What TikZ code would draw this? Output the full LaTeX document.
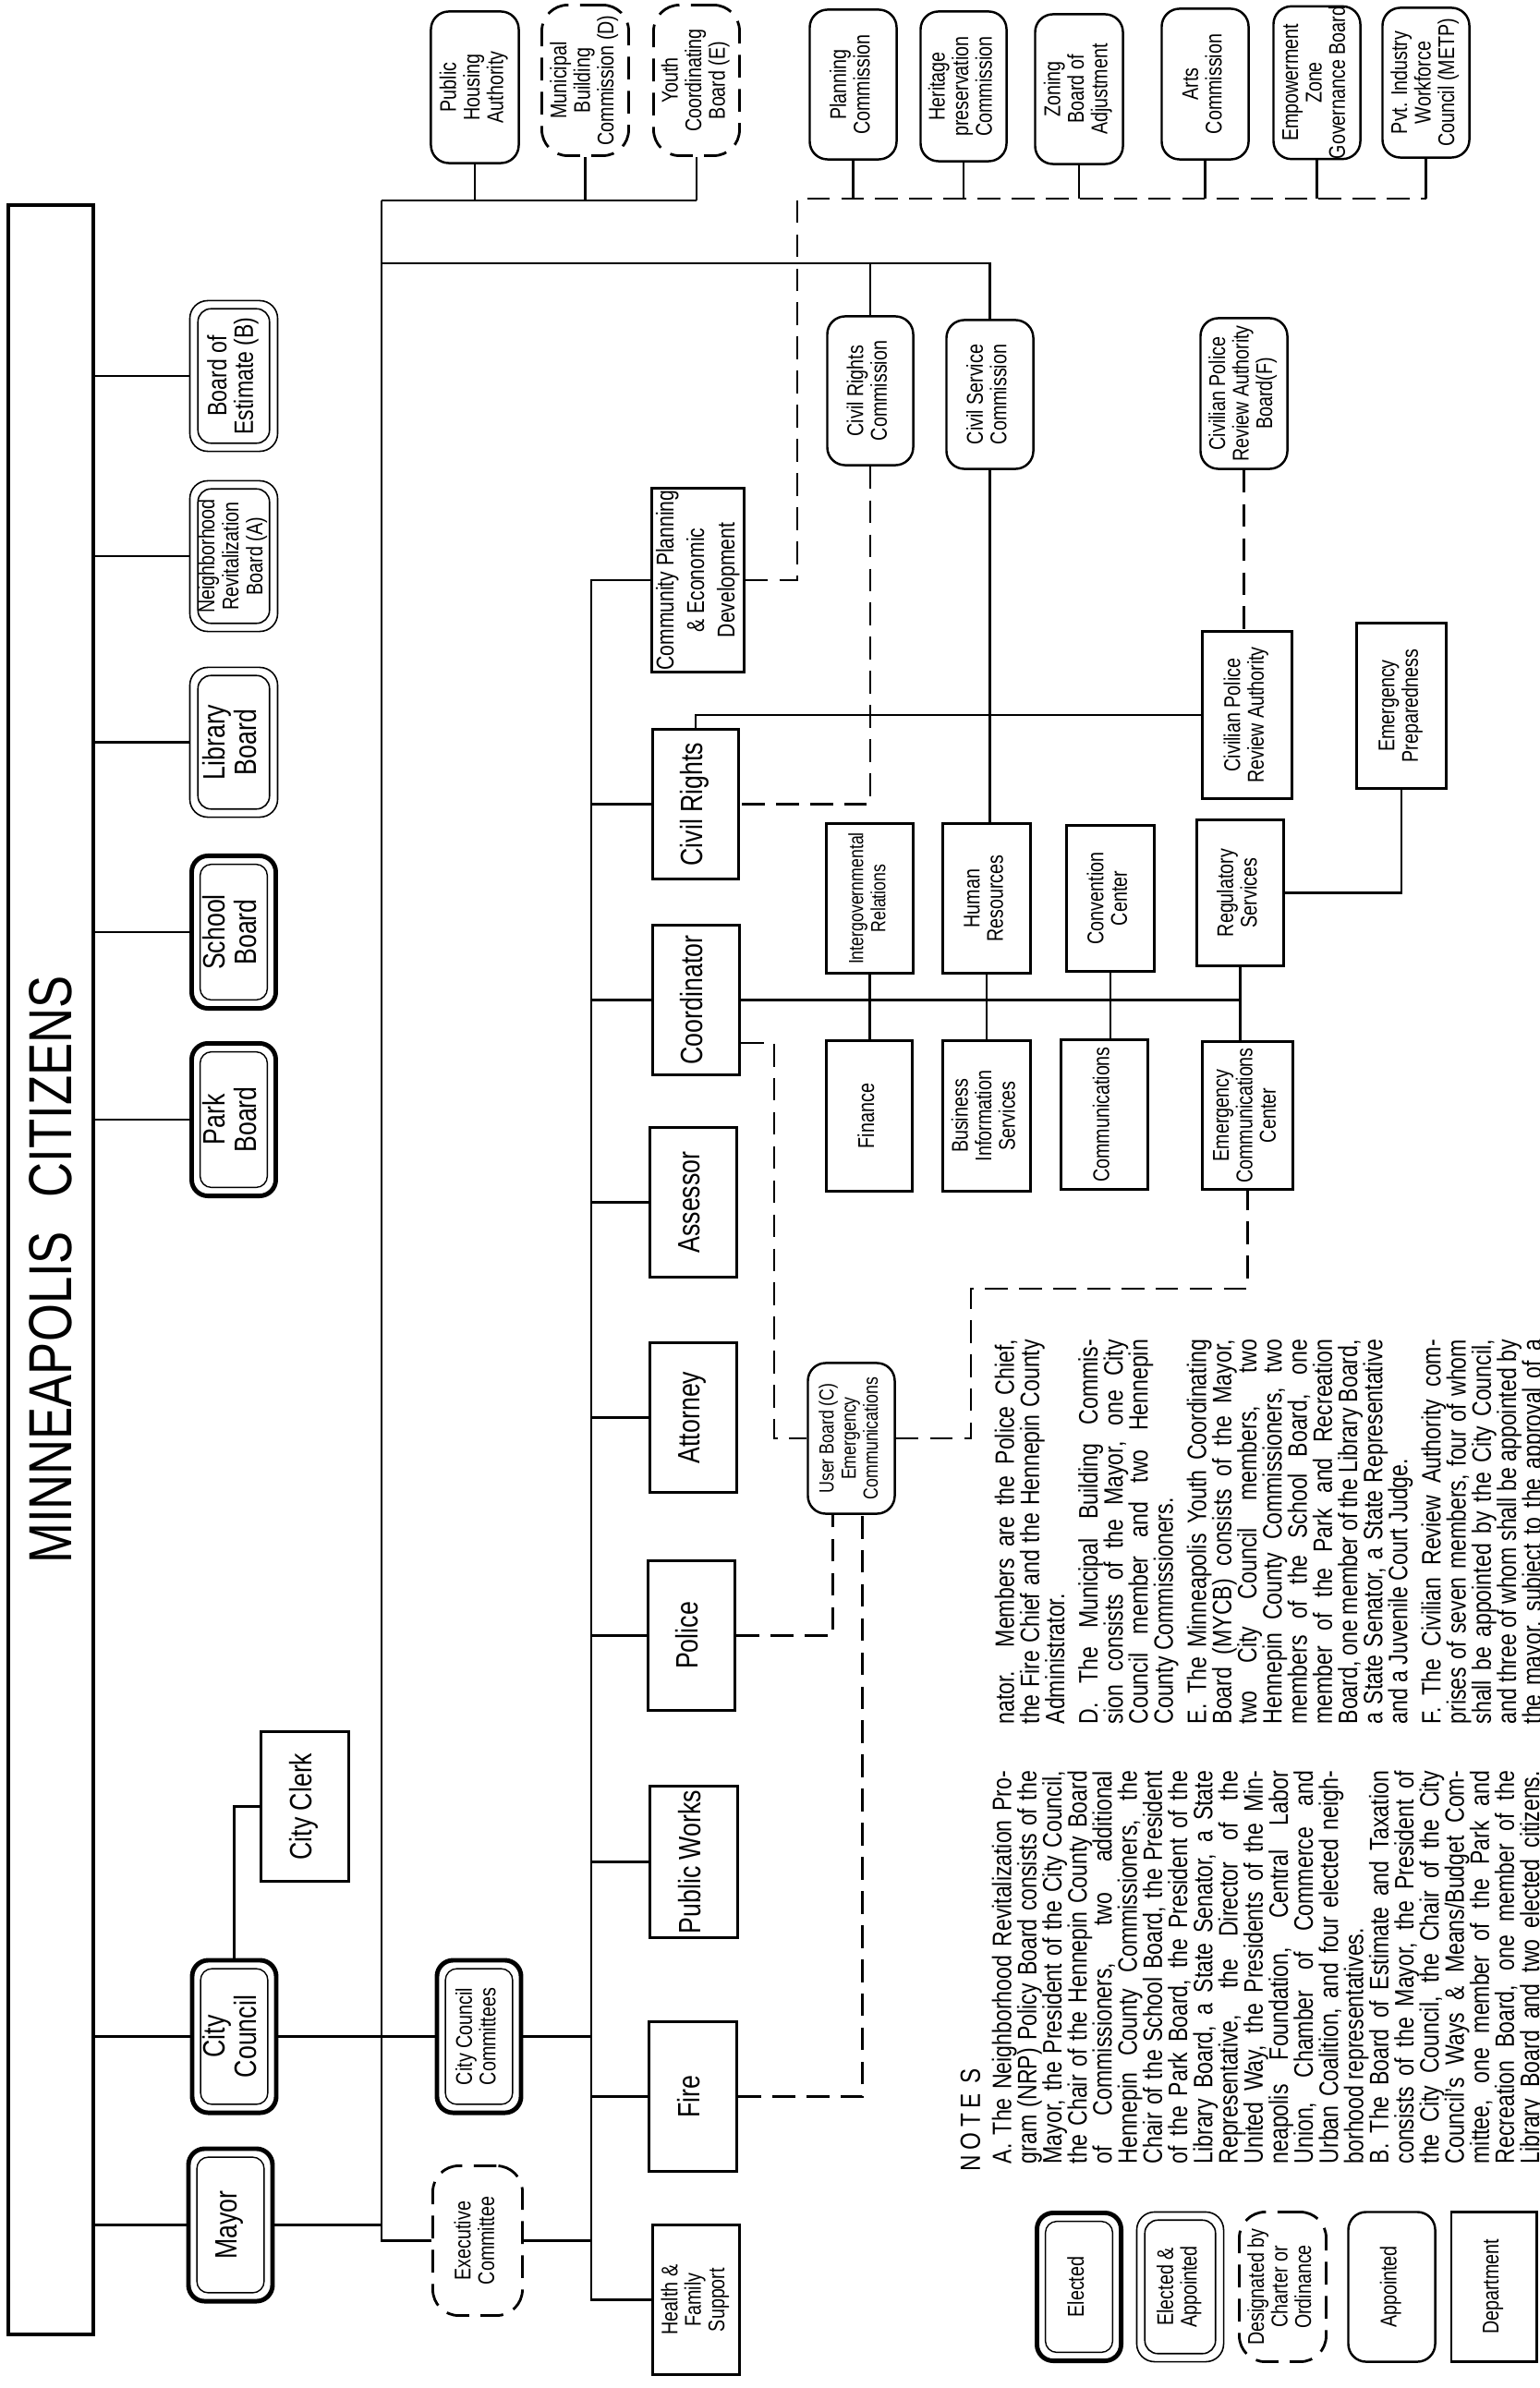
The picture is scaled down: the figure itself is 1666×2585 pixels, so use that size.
\documentclass[tikz,border=0pt]{standalone}
\usepackage{fontspec}
\setmainfont{Liberation Sans}[FakeStretch=0.8]
\usepackage{graphicx}
\usetikzlibrary{calc}

\newcommand{\vt}[1]{\rotatebox{90}{\begin{tabular}{@{}c@{}}#1\end{tabular}}}

\tikzset{
  wh/.style 2 args={minimum width=#1cm, minimum height=#2cm},
  big/.style={font=\fontsize{9.5}{9.2}\selectfont},
  mid/.style={font=\fontsize{8.2}{7.5}\selectfont},
  small/.style={font=\fontsize{7}{7.2}\selectfont},
  tiny/.style={font=\fontsize{6.3}{6.8}\selectfont},
  link/.style={line width=0.6pt},
  stub/.style={line width=0.8pt},
  dlink/.style={line width=0.8pt, dash pattern=on 7pt off 3.5pt},
  dept/.style={draw, line width=0.85pt, inner sep=0pt},
  appt/.style={draw, line width=0.7pt, rounded corners=5.5pt, inner sep=0pt},
  desig/.style={draw, line width=0.8pt, rounded corners=8pt, dash pattern=on 7pt off 3.5pt, inner sep=0pt},
  elected/.style={draw, line width=1.4pt, rounded corners=5pt, inner sep=0pt,
    path picture={\draw[line width=0.4pt, rounded corners=3.5pt, solid]
      ([shift={(2.6pt,-2.6pt)}]path picture bounding box.north west) rectangle
      ([shift={(-2.6pt,2.6pt)}]path picture bounding box.south east);}},
  elapp/.style={draw, line width=0.45pt, rounded corners=5.5pt, inner sep=0pt,
    path picture={\draw[line width=0.45pt, rounded corners=4pt, solid]
      ([shift={(2.5pt,-2.5pt)}]path picture bounding box.north west) rectangle
      ([shift={(-2.5pt,2.5pt)}]path picture bounding box.south east);}},
  banner/.style={draw, line width=1.1pt, inner sep=0pt},
  notes/.style={rotate=90, inner sep=0pt, font=\fontsize{8.2}{7.74}\selectfont,
    execute at begin node={\setlength{\parindent}{0pt}\lineskiplimit=-10pt\hyphenpenalty=10000\tolerance=9999}}
}

\begin{document}
\begin{tikzpicture}[x=0.01cm, y=-0.01cm]
\useasboundingbox (0,0) rectangle (1666,2585);

\node[banner, wh={0.92}{23.03}] (citizens) at (55,1374.5) {\rotatebox{90}{\fontsize{18.7}{20}\selectfont MINNEAPOLIS\hspace{10.5pt}CITIZENS}};

\node[elapp, mid, wh={0.95}{1.63}] (estimate) at (253,407) {\vt{Board of\\Estimate (B)}};
\node[elapp, font=\fontsize{7}{7.4}\selectfont, wh={0.95}{1.63}] (nrb) at (253,602) {\vt{Neighborhood\\Revitalization\\Board (A)}};
\node[elapp, big, wh={0.95}{1.62}] (library) at (253,803.5) {\vt{Library\\Board}};
\node[elected, big, wh={0.91}{1.65}] (school) at (253,1009) {\vt{School\\Board}};
\node[elected, big, wh={0.91}{1.65}] (park) at (253,1212) {\vt{Park\\Board}};
\node[elected, big, wh={0.91}{1.65}] (council) at (253.5,2204.5) {\vt{City\\Council}};
\node[elected, big, wh={0.91}{1.65}] (mayor) at (249.5,2408.5) {\vt{Mayor}};
\node[dept, big, wh={0.95}{1.62}] (clerk) at (330,1955.5) {\vt{City Clerk}};
\node[elected, small, wh={0.91}{1.65}] (committees) at (518.5,2204.5) {\vt{City Council\\Committees}};
\node[desig, small, wh={0.97}{1.62}] (exec) at (517,2425.5) {\vt{Executive\\Committee}};

\node[appt, small, wh={0.95}{1.64}] (housing) at (514,94.5) {\vt{Public\\Housing\\Authority}};
\node[desig, small, wh={0.94}{1.63}] (mbc) at (633.5,87) {\vt{Municipal\\Building\\Commission (D)}};
\node[desig, small, wh={0.93}{1.63}] (ycb) at (754,87) {\vt{Youth\\Coordinating\\Board (E)}};
\node[appt, small, wh={0.94}{1.62}] (planning) at (923.5,91.5) {\vt{Planning\\Commission}};
\node[appt, small, wh={0.93}{1.62}] (heritage) at (1043,93.5) {\vt{Heritage\\preservation\\Commission}};
\node[appt, small, wh={0.95}{1.62}] (zoning) at (1168,96.5) {\vt{Zoning\\Board of\\Adjustment}};
\node[appt, small, wh={0.94}{1.63}] (arts) at (1304.5,91) {\vt{Arts\\Commission}};
\node[appt, small, wh={0.94}{1.62}] (ezgb) at (1425.5,89.5) {\vt{Empowerment\\Zone\\Governance Board}};
\node[appt, small, wh={0.94}{1.62}] (pvt) at (1543.5,89.5) {\vt{Pvt. Industry\\Workforce\\Council (METP)}};

\node[appt, small, wh={0.93}{1.61}] (crc) at (942,423) {\vt{Civil Rights\\Commission}};
\node[appt, small, wh={0.94}{1.61}] (csc) at (1071.5,427) {\vt{Civil Service\\Commission}};
\node[appt, small, wh={0.94}{1.63}] (cprab) at (1346.5,426) {\vt{Civilian Police\\Review Authority\\Board(F)}};

\node[dept, font=\fontsize{7.5}{9.4}\selectfont, wh={0.98}{1.99}] (cped) at (755.5,628) {\vt{Community Planning\\\& Economic\\Development}};
\node[dept, big, wh={0.93}{1.62}] (civrights) at (753,870.5) {\vt{Civil Rights}};
\node[dept, big, wh={0.94}{1.62}] (coord) at (753.5,1082.5) {\vt{Coordinator}};
\node[dept, big, wh={0.94}{1.62}] (assessor) at (750.5,1301.5) {\vt{Assessor}};
\node[dept, big, wh={0.94}{1.62}] (attorney) at (750.5,1534.5) {\vt{Attorney}};
\node[dept, big, wh={0.94}{1.62}] (police) at (748.5,1770.5) {\vt{Police}};
\node[dept, big, wh={0.95}{1.64}] (pworks) at (751,2015.5) {\vt{Public Works}};
\node[dept, big, wh={0.95}{1.62}] (fire) at (750,2269.5) {\vt{Fire}};
\node[dept, small, wh={0.94}{1.62}] (hfs) at (753.5,2489.5) {\vt{Health \&\\Family\\Support}};

\node[dept, tiny, wh={0.94}{1.62}] (igr) at (941.5,972.5) {\vt{Intergovernmental\\Relations}};
\node[dept, small, wh={0.93}{1.63}] (finance) at (941,1208) {\vt{Finance}};
\node[dept, small, wh={0.94}{1.62}] (hr) at (1068,972.5) {\vt{Human\\Resources}};
\node[dept, small, wh={0.94}{1.63}] (bis) at (1068,1208) {\vt{Business\\Information\\Services}};
\node[dept, small, wh={0.95}{1.58}] (conv) at (1202,972.5) {\vt{Convention\\Center}};
\node[dept, small, wh={0.94}{1.62}] (comms) at (1195.5,1206.5) {\vt{Communications}};
\node[dept, small, wh={0.94}{1.58}] (reg) at (1342.5,966.5) {\vt{Regulatory\\Services}};
\node[dept, small, wh={0.98}{1.60}] (ecc) at (1350.5,1207.5) {\vt{Emergency\\Communications\\Center}};
\node[dept, small, wh={0.97}{1.81}] (cpra) at (1350,774) {\vt{Civilian Police\\Review Authority}};
\node[dept, small, wh={0.97}{1.79}] (emprep) at (1517,764) {\vt{Emergency\\Preparedness}};
\node[appt, tiny, wh={0.94}{1.63}] (userbd) at (921.5,1557) {\vt{User Board (C)\\Emergency\\Communications}};

\node[elected, small, wh={0.91}{1.60}] (lgelected) at (1168,2475.5) {\vt{Elected}};
\node[elapp, small, wh={0.94}{1.62}] (lgelapp) at (1277.5,2475.5) {\vt{Elected \&\\Appointed}};
\node[desig, small, wh={0.94}{1.62}] (lgdesig) at (1388.5,2475.5) {\vt{Designated by\\Charter or\\Ordinance}};
\node[appt, small, wh={0.94}{1.62}] (lgappt) at (1506.5,2475.5) {\vt{Appointed}};
\node[dept, small, wh={0.92}{1.62}] (lgdept) at (1617,2475.5) {\vt{Department}};

\foreach \n in {estimate,nrb,library,school,park,council,mayor}
  \draw[link] (\n.west -| citizens.east) -- (\n.west);

\coordinate (bus1) at (413,217);
\coordinate (bus2) at (413,285);
\draw[link] (council.north) |- (clerk.west);
\draw[link] (council.east) -- (committees.west);
\draw[link] (mayor.east) -- (mayor.east -| bus1);
\draw[link] (bus1) |- (exec.west);
\draw[link] (bus1) -- (bus1 -| ycb.south);
\foreach \n in {housing,mbc,ycb}
  \draw[link] (\n.south) -- (\n.south |- bus1);
\draw[link] (bus2) -| (csc.north);
\draw[link] (crc.north) -- (crc.north |- bus2);

\coordinate (spine) at (640,628);
\draw[link] (cped.west) -- (spine) |- (hfs.west);
\foreach \n in {civrights,coord,assessor,attorney,police,pworks,fire}
  \draw[link] (\n.west) -- (\n.west -| spine);
\draw[link] (committees.east) -- (committees.east -| spine);
\draw[link] (exec.east) -- (exec.east -| spine);

\coordinate (bus3) at (863,215);
\draw[dlink] (cped.east) -| (bus3) -- (bus3 -| pvt.south);
\foreach \n in {planning,heritage,zoning,arts,ezgb,pvt}
  \draw[stub] (\n.south) -- (\n.south |- bus3);

\draw[dlink] (crc.south) |- (civrights.east);
\draw[link] (civrights.north) |- (cpra.west);
\draw[dlink] (cprab.south) -- (cprab.south |- cpra.north);
\draw[link] (csc.south) -- (csc.south |- hr.north);

\draw[link] (coord.east) -- (coord.east -| reg.south);
\draw[link] (igr.south) -- (igr.south |- finance.north);
\draw[link] (hr.south) -- (hr.south |- bis.north);
\draw[link] (conv.south) -- (conv.south |- comms.north);
\draw[link] (reg.south) -- (reg.south |- ecc.north);
\draw[link] (reg.east) -| (emprep.south);

\coordinate (ubin) at (838,1129);
\coordinate (ubout) at (1051,1395);
\draw[dlink] (coord.east |- ubin) -- (ubin) |- (userbd.west);
\draw[dlink] (userbd.east) -| (ubout) -| (ecc.south);
\draw[dlink] (police.east) -| ($(userbd.south)+(-20,0)$);
\draw[dlink] (fire.east) -| ($(userbd.south)+(12,0)$);

\node[notes, anchor=north west, font=\fontsize{8.6}{8.6}\selectfont] (notehead) at (1039,2351) {N\hspace{1.6pt}O\hspace{1.6pt}T\hspace{1.6pt}E\hspace{3pt}S};

\node[notes, anchor=north west, text width=4.25cm, align=justify] (notesab) at (1073,2343) {%
A. The Neighborhood Revitalization Pro-\linebreak
gram (NRP) Policy Board consists of the\linebreak
Mayor, the President of the City Council,\linebreak
the Chair of the Hennepin County Board\linebreak
of Commissioners, two additional\linebreak
Hennepin County Commissioners, the\linebreak
Chair of the School Board, the President\linebreak
of the Park Board, the President of the\linebreak
Library Board, a State Senator, a State\linebreak
Representative, the Director of the\linebreak
United Way, the Presidents of the Min-\linebreak
neapolis Foundation, Central Labor\linebreak
Union, Chamber of Commerce and\linebreak
Urban Coalition, and four elected neigh-\linebreak
borhood representatives.\par
{\parfillskip=0pt B. The Board of Estimate and Taxation\linebreak
consists of the Mayor, the President of\linebreak
the City Council, the Chair of the City\linebreak
Council's Ways \& Means/Budget Com-\linebreak
mittee, one member of the Park and\linebreak
Recreation Board, one member of the\linebreak
Library Board and two elected citizens.\par}};

\node[notes, anchor=north west, text width=4.16cm, align=justify] (notescf) at (1076,1867) {%
nator. Members are the Police Chief,\linebreak
the Fire Chief and the Hennepin County\linebreak
Administrator.\par\vspace{2.5pt}
D. The Municipal Building Commis-\linebreak
sion consists of the Mayor, one City\linebreak
Council member and two Hennepin\linebreak
County Commissioners.\par\vspace{2.5pt}
E. The Minneapolis Youth Coordinating\linebreak
Board (MYCB) consists of the Mayor,\linebreak
two City Council members, two\linebreak
Hennepin County Commissioners, two\linebreak
members of the School Board, one\linebreak
member of the Park and Recreation\linebreak
Board, one member of the Library Board,\linebreak
a State Senator, a State Representative\linebreak
and a Juvenile Court Judge.\par\vspace{2.5pt}
{\parfillskip=0pt F. The Civilian Review Authority com-\linebreak
prises of seven members, four of whom\linebreak
shall be appointed by the City Council,\linebreak
and three of whom shall be appointed by\linebreak
the mayor, subject to the approval of a\par}};
\end{tikzpicture}
\end{document}
